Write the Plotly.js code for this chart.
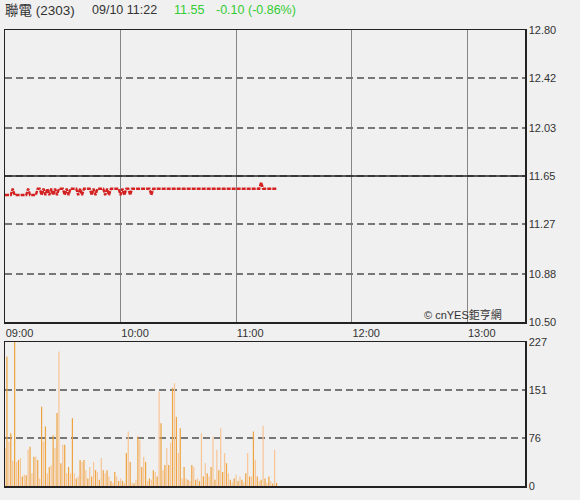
<!DOCTYPE html>
<html>
<head>
<meta charset="utf-8">
<script src="https://cdn.plot.ly/plotly-3.0.1.min.js"></script>
<style>html,body{margin:0;padding:0;background:#f0f0f0;}</style>
</head>
<body>
<div id="chart" style="width:580px;height:500px;"></div>
<script>
// ---- data ----
const stockName = "聯電 (2303)";
const quoteTime = "09/10 11:22";
const lastPrice = "11.55";
const change = "-0.10 (-0.86%)";
const prevClose = 11.65;
const sessionStart = "2024-09-10 09:00";
const sessionEnd = "2024-09-10 13:30";
const priceTicks = [10.50, 10.88, 11.27, 11.65, 12.03, 12.42, 12.80];
const volumeTicks = [0, 76, 151, 227];
const timeTickLabels = ["09:00", "10:00", "11:00", "12:00", "13:00"];
const prices = [
  11.50,11.50,11.50,11.50,11.55,11.50,11.50,11.50,11.50,11.50,
  11.50,11.50,11.55,11.50,11.50,11.50,11.50,11.55,11.55,11.50,
  11.55,11.50,11.55,11.50,11.55,11.50,11.55,11.50,11.55,11.55,
  11.55,11.50,11.55,11.50,11.55,11.55,11.55,11.55,11.50,11.55,
  11.50,11.55,11.55,11.55,11.55,11.50,11.55,11.50,11.55,11.55,
  11.55,11.55,11.50,11.55,11.50,11.55,11.55,11.55,11.55,11.55,
  11.50,11.55,11.50,11.55,11.55,11.50,11.55,11.55,11.55,11.55,
  11.55,11.55,11.55,11.55,11.55,11.55,11.50,11.55,11.55,11.55,
  11.55,11.55,11.55,11.55,11.55,11.55,11.55,11.55,11.55,11.55,
  11.55,11.55,11.55,11.55,11.55,11.55,11.55,11.55,11.55,11.55,
  11.55,11.55,11.55,11.55,11.55,11.55,11.55,11.55,11.55,11.55,
  11.55,11.55,11.55,11.55,11.55,11.55,11.55,11.55,11.55,11.55,
  11.55,11.55,11.55,11.55,11.55,11.55,11.55,11.55,11.55,11.55,
  11.55,11.55,11.55,11.60,11.55,11.55,11.55,11.55,11.55,11.55,
  11.55,11.55
];
const volumes = [
  60,204,70,83,40,227,38,41,44,15,
  18,17,57,62,20,46,46,41,12,125,
  70,94,20,30,33,80,60,115,212,36,
  65,65,20,30,20,107,20,12,15,41,
  38,41,25,12,30,15,38,25,22,10,
  44,25,20,25,15,8,5,22,15,8,
  12,8,5,52,86,38,5,4,10,78,
  72,30,46,38,8,12,10,25,22,15,
  149,99,25,33,60,33,68,155,162,109,
  52,91,12,30,12,10,8,33,30,10,
  12,8,83,15,36,20,15,30,78,10,
  57,25,91,22,52,36,20,10,6,12,
  18,8,15,10,6,20,52,15,15,86,
  41,15,8,10,95,12,5,15,8,4,
  57,5
];

// ---- helpers ----
function minuteTime(i) {
  const d = new Date(Date.UTC(2024, 8, 10, 9, i, 0));
  return d.toISOString().slice(0, 19).replace("T", " ");
}
const priceTimes = prices.map((_, i) => minuteTime(i));
const volumeTimes = volumes.map((_, i) => minuteTime(i));
const barColors = volumes.map((_, i) => (i % 2 === 0 ? "#f8c596" : "#eea440"));

const W = 580, H = 500, ML = 5, MR = 55, MT = 30, MB = 14;
const PW = W - ML - MR, PH = H - MT - MB;
const px = x => (x - ML) / PW;
const py = y => (H - MB - y) / PH;

const baseFont = "Arial, 'Liberation Sans', 'Noto Sans CJK TC', sans-serif";

const traces = [
  {
    type: "scatter", mode: "lines", x: priceTimes, y: prices,
    xaxis: "x", yaxis: "y",
    line: {color: "#d42222", width: 2.4, dash: "4px,1px"},
    hoverinfo: "skip"
  },
  {
    type: "bar", x: volumeTimes, y: volumes,
    xaxis: "x2", yaxis: "y2",
    width: 38000,
    marker: {color: barColors, line: {width: 0}},
    hoverinfo: "skip"
  }
];

const gridDash = "7px,4px";
const layout = {
  width: W, height: H,
  margin: {l: ML, r: MR, t: MT, b: MB},
  paper_bgcolor: "#f0f0f0", plot_bgcolor: "#f0f0f0",
  showlegend: false,
  font: {family: baseFont, size: 11, color: "#333"},
  xaxis: {
    type: "date", range: [sessionStart, sessionEnd], domain: [0, 1], anchor: "y",
    tickvals: timeTickLabels.map(t => "2024-09-10 " + t),
    ticktext: timeTickLabels,
    ticklabelposition: "outside right",
    ticks: "", showgrid: true, gridcolor: "#858585", gridwidth: 1.2,
    showline: true, mirror: true, linecolor: "#222", linewidth: 1.5,
    tickfont: {size: 11, color: "#333"}, zeroline: false, fixedrange: true
  },
  yaxis: {
    domain: [py(322), 1], range: [priceTicks[0], priceTicks[priceTicks.length - 1]],
    side: "right", anchor: "x",
    tickvals: priceTicks, ticktext: priceTicks.map(v => v.toFixed(2)),
    ticks: "", showgrid: true, gridcolor: "#777", gridwidth: 1.5, griddash: gridDash,
    showline: true, mirror: true, linecolor: "#222", linewidth: 1.5,
    zeroline: false, tickfont: {size: 11, color: "#333"}, fixedrange: true
  },
  xaxis2: {
    type: "date", range: [sessionStart, sessionEnd], domain: [0, 1], anchor: "y2",
    showticklabels: false, ticks: "", showgrid: false,
    showline: true, mirror: true, linecolor: "#222", linewidth: 1.5,
    zeroline: false, fixedrange: true
  },
  yaxis2: {
    domain: [0, py(342)], range: [0, volumeTicks[volumeTicks.length - 1]],
    side: "right", anchor: "x2",
    tickvals: volumeTicks, ticktext: volumeTicks.map(String),
    ticks: "", showgrid: true, gridcolor: "#777", gridwidth: 1.5, griddash: gridDash,
    showline: true, mirror: true, linecolor: "#222", linewidth: 1.5,
    zeroline: false, tickfont: {size: 11, color: "#333"}, fixedrange: true
  },
  shapes: [
    {type: "line", xref: "paper", yref: "y", x0: 0, x1: 1, y0: prevClose, y1: prevClose,
     line: {color: "#222", width: 1.5}}
  ],
  annotations: [
    {text: stockName, xref: "paper", yref: "paper", x: px(3), y: py(10), xanchor: "left", yanchor: "middle",
     showarrow: false, font: {size: 13.5, color: "#333", family: baseFont}},
    {text: quoteTime, xref: "paper", yref: "paper", x: px(90), y: py(10), xanchor: "left", yanchor: "middle",
     showarrow: false, font: {size: 12.5, color: "#333", family: baseFont}},
    {text: lastPrice, xref: "paper", yref: "paper", x: px(172), y: py(10), xanchor: "left", yanchor: "middle",
     showarrow: false, font: {size: 12.5, color: "#33cc33", family: baseFont}},
    {text: change, xref: "paper", yref: "paper", x: px(214), y: py(10), xanchor: "left", yanchor: "middle",
     showarrow: false, font: {size: 12.5, color: "#33cc33", family: baseFont}},
    {text: "© cnYES鉅亨網", xref: "paper", yref: "paper", x: px(422), y: py(314), xanchor: "left", yanchor: "middle",
     showarrow: false, font: {size: 11, color: "#333", family: baseFont}}
  ]
};

Plotly.newPlot("chart", traces, layout, {staticPlot: true, displayModeBar: false});
</script>
</body>
</html>
